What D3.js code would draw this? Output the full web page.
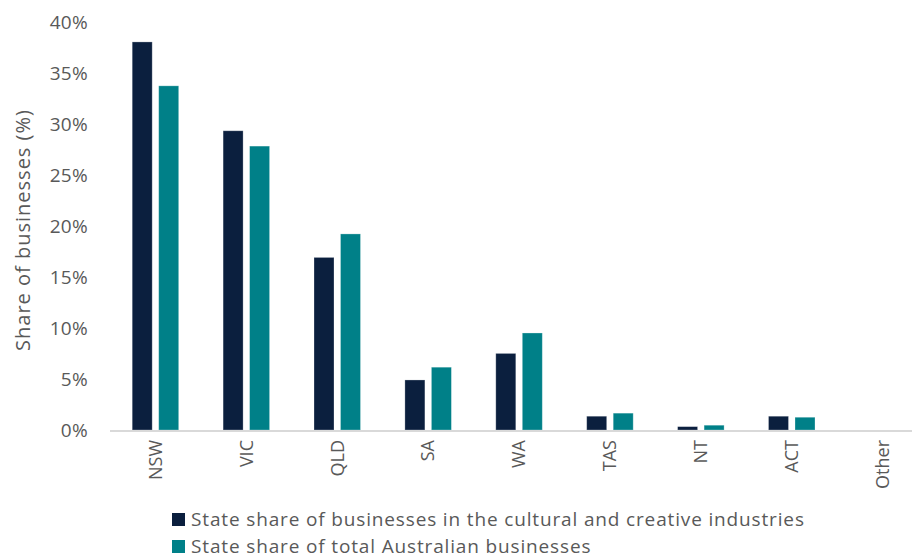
<!DOCTYPE html>
<html>
<head>
<meta charset="utf-8">
<script src="https://cdn.jsdelivr.net/npm/d3@7"></script>
<style>
  html, body { margin: 0; padding: 0; background: #fff; }
  svg { display: block; font-family: "Open Sans", "Noto Sans", sans-serif; }
  svg text { font-family: "Open Sans", "Noto Sans", sans-serif; }
</style>
</head>
<body>
<svg id="chart" width="912" height="559"></svg>
<script>
// States and territories along the x axis
const categories = ["NSW", "VIC", "QLD", "SA", "WA", "TAS", "NT", "ACT", "Other"];

// Share of businesses, in percent
const creativeShare = [38.0, 29.3, 16.9, 4.9, 7.5, 1.35, 0.33, 1.35, 0];
const totalShare    = [33.7, 27.8, 19.2, 6.15, 9.5, 1.65, 0.47, 1.25, 0];

const seriesNames = [
  "State share of businesses in the cultural and creative industries",
  "State share of total Australian businesses"
];
const seriesColors = ["#0b1f3e", "#008088"];

const yTicks = [0, 5, 10, 15, 20, 25, 30, 35, 40];

const svg = d3.select("#chart");
const W = 912;
const baseY = 430, topY = 21.5;
const left = 110, bandStep = 90.9;

const x = d3.scaleBand()
  .domain(categories)
  .range([left, left + bandStep * categories.length])
  .paddingInner(0)
  .paddingOuter(0);

const y = d3.scaleLinear().domain([0, 40]).range([baseY, topY]);

const barW = 20, gap = 6.5;
const series = [creativeShare, totalShare];

// Bars
series.forEach((vals, si) => {
  svg.append("g")
    .selectAll("rect")
    .data(categories.map((c, i) => ({ c, v: vals[i] })))
    .join("rect")
    .attr("x", d => x(d.c) + x.bandwidth() / 2 - barW - gap / 2 + si * (barW + gap))
    .attr("y", d => y(d.v))
    .attr("width", barW)
    .attr("height", d => baseY - y(d.v))
    .attr("fill", seriesColors[si])
    .attr("stroke", d => d.v > 0 ? "rgba(255,255,255,0.35)" : "none")
    .attr("stroke-width", 0.8);
});

// Baseline
svg.append("line")
  .attr("x1", left).attr("x2", W)
  .attr("y1", baseY + 1).attr("y2", baseY + 1)
  .attr("stroke", "#d9d9d9").attr("stroke-width", 2);

// Y axis labels
const yAxis = d3.axisLeft(y)
  .tickValues(yTicks)
  .tickFormat(d => d + "%")
  .tickSize(0)
  .tickPadding(0);
const yg = svg.append("g").attr("transform", "translate(88,0)").call(yAxis);
yg.attr("font-family", null);
yg.select(".domain").remove();
yg.selectAll("text")
  .attr("fill", "#595959")
  .style("font-size", "19px")
  .style("letter-spacing", "0.3px")
  .attr("dy", "0.35em");

// X axis labels, rotated
const xAxis = d3.axisBottom(x).tickSize(0).tickPadding(0);
const xg = svg.append("g").attr("transform", `translate(0,${baseY})`).call(xAxis);
xg.attr("font-family", null);
xg.select(".domain").remove();
xg.selectAll("text")
  .attr("fill", "#595959")
  .style("font-size", "18px")
  .attr("transform", "rotate(-90)")
  .attr("text-anchor", "end")
  .attr("x", -10)
  .attr("y", 0)
  .attr("dy", "0.35em");

// Y axis title
svg.append("text")
  .attr("transform", "translate(23,230) rotate(-90)")
  .attr("text-anchor", "middle")
  .attr("dy", "0.35em")
  .attr("fill", "#595959")
  .style("font-size", "20px")
  .style("letter-spacing", "1px")
  .text("Share of businesses (%)");

// Legend
const lg = svg.append("g");
seriesNames.forEach((name, i) => {
  const ly = 519 + i * 27;
  lg.append("rect")
    .attr("x", 172).attr("y", ly - 6)
    .attr("width", 13).attr("height", 13)
    .attr("fill", seriesColors[i]);
  lg.append("text")
    .attr("x", 191).attr("y", ly)
    .attr("dy", "0.35em")
    .attr("fill", "#595959")
    .style("font-size", "19px")
    .style("letter-spacing", "0.85px")
    .text(name);
});
</script>
</body>
</html>
